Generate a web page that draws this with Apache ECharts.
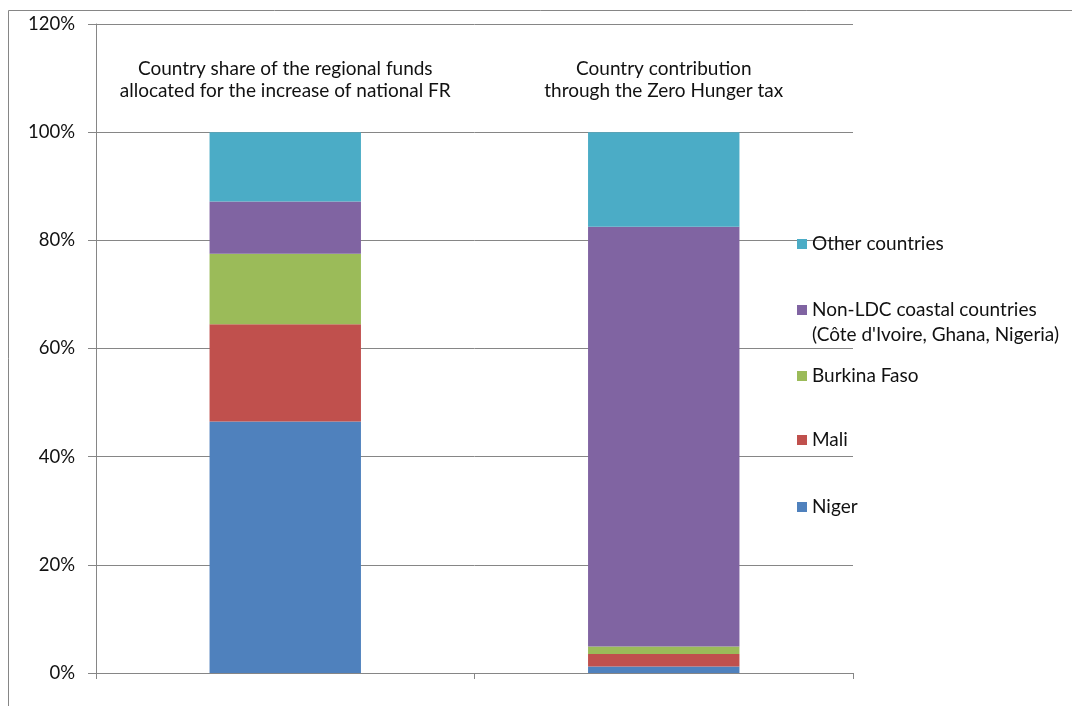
<!DOCTYPE html>
<html>
<head>
<meta charset="utf-8">
<script src="https://cdn.jsdelivr.net/npm/echarts@6/dist/echarts.min.js"></script>
<style>html,body{margin:0;padding:0;background:#fff}#c{width:1072px;height:706px}</style>
</head>
<body>
<div id="c"></div>
<script>
var categories = ["Country share of the regional funds\nallocated for the increase of national FR", "Country contribution\nthrough the Zero Hunger tax"];
var seriesNames = ["Niger", "Mali", "Burkina Faso", "Non-LDC coastal countries\n(Côte d'Ivoire, Ghana, Nigeria)", "Other countries"];
var niger = [46.5, 1.2];
var mali = [18.0, 2.3];
var burkina = [13.0, 1.4];
var nonLdc = [9.7, 77.6];
var others = [12.8, 17.5];
var yTicks = [0, 20, 40, 60, 80, 100, 120];

var colors = ["#4F81BD", "#C0504D", "#9BBB59", "#8064A2", "#4BACC6"];
var values = [niger, mali, burkina, nonLdc, others];
var FONT = "Lato";
var TXT = "#111";
var FS = 19;

var series = seriesNames.map(function (n, i) {
  var s = {
    name: n, type: "bar", stack: "total", data: values[i],
    barCategoryGap: "60%",
    itemStyle: { color: colors[i] },
    emphasis: { disabled: true }
  };
  if (i === seriesNames.length - 1) {
    s.label = {
      show: true, position: "top", distance: 30,
      formatter: function (p) { return categories[p.dataIndex]; },
      fontFamily: FONT, fontSize: FS, lineHeight: 22, color: TXT, align: "center"
    };
  }
  return s;
});

var legendCenters = [507, 440, 376, 310, 244];
var legends = seriesNames.map(function (n, i) {
  var two = n.indexOf("\n") >= 0;
  var lg = {
    data: [n], orient: "vertical", left: 797,
    top: two ? legendCenters[i] - 37.5 : legendCenters[i] - 10,
    padding: 0, itemWidth: 10, itemHeight: 10, itemGap: 0,
    selectedMode: false, icon: "rect",
    textStyle: two ?
      { fontFamily: FONT, fontSize: FS, lineHeight: 25, color: TXT } :
      { fontFamily: FONT, fontSize: FS, lineHeight: 20, color: TXT }
  };
  if (two) lg.formatter = function (name) { return "\u00a0\n" + name; };
  return lg;
});

var chart = echarts.init(document.getElementById("c"));
chart.setOption({
  animation: false,
  color: colors,
  graphic: [{
    type: "rect", shape: { x: 8.5, y: 10.5, width: 1200, height: 800 },
    style: { fill: null, stroke: "#868686", lineWidth: 1 }, silent: true
  }],
  grid: { left: 96, right: 219, top: 24, bottom: 33 },
  legend: legends,
  xAxis: {
    type: "category", data: categories,
    axisLine: { lineStyle: { color: "#868686", width: 1 } },
    axisTick: { show: true, length: 6, lineStyle: { color: "#868686" } },
    axisLabel: { show: false }
  },
  yAxis: {
    type: "value", min: 0, max: 120, interval: 20,
    axisLine: { show: true, lineStyle: { color: "#868686" } },
    axisTick: { show: true, length: 8, lineStyle: { color: "#868686" } },
    splitLine: { lineStyle: { color: "#868686", width: 1 } },
    axisLabel: {
      margin: 21, fontFamily: FONT, fontSize: 18.5, color: TXT,
      formatter: function (v) { return yTicks.indexOf(v) >= 0 ? v + "%" : ""; }
    }
  },
  series: series
});
</script>
</body>
</html>
